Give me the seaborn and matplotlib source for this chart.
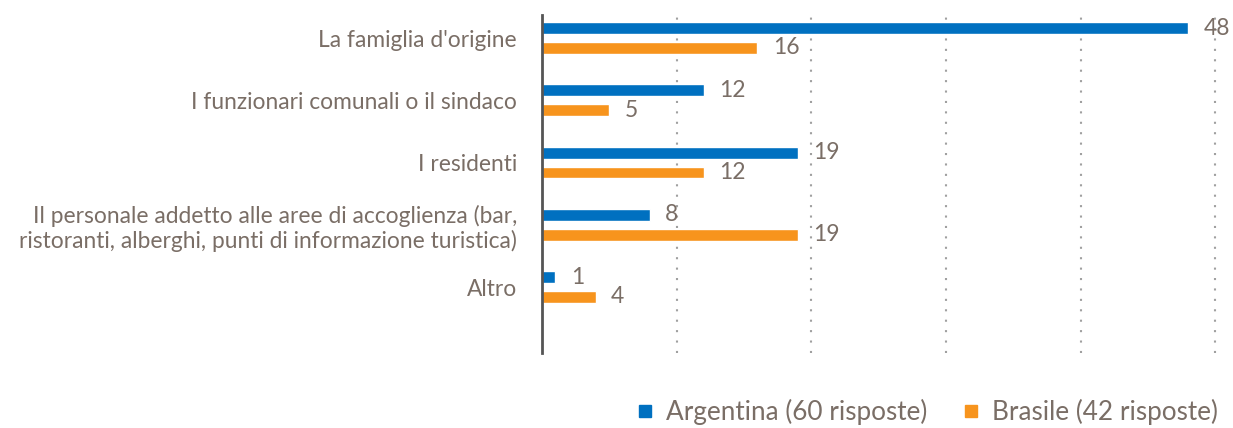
import pandas as pd
import matplotlib.pyplot as plt
import seaborn as sns
from matplotlib.lines import Line2D

categories = [
    "La famiglia d'origine",
    "I funzionari comunali o il sindaco",
    "I residenti",
    "Il personale addetto alle aree di accoglienza (bar,\nristoranti, alberghi, punti di informazione turistica)",
    "Altro",
]
series = ["Argentina (60 risposte)", "Brasile (42 risposte)"]
argentina = [48, 12, 19, 8, 1]
brasile = [16, 5, 12, 19, 4]

colors = ["#0070C0", "#F7941D"]
textColor = "#7A6E66"

df = pd.DataFrame({
    "categoria": categories * 2,
    "serie": [series[0]] * len(categories) + [series[1]] * len(categories),
    "valore": argentina + brasile,
})

sns.set_style("white")
plt.rcParams['font.family'] = ['Lato', 'DejaVu Sans']

fig = plt.figure(figsize=(12.33, 4.28), dpi=100)
ax = fig.add_axes([542 / 1233, 1 - 353 / 428, (1218 - 542) / 1233, (353 - 15) / 428])

sns.barplot(data=df, y="categoria", x="valore", hue="serie", order=categories,
            hue_order=series, palette=colors, orient="h", width=0.64, gap=0.4,
            ax=ax, legend=False, saturation=1)

for container in ax.containers:
    ax.bar_label(container, padding=11, color=textColor, fontsize=16.5)

ax.set_xlim(0, 50.2)
ax.set_ylim(4 + 1.06, -0.37)
ax.set_xticks([10, 20, 30, 40, 50])
ax.set_xticklabels([])
ax.tick_params(axis="both", length=0)
ax.xaxis.grid(True, linestyle=(0, (1, 4)), color="#A0A0A0", linewidth=1.5)
ax.set_axisbelow(True)
for side in ["top", "right", "bottom"]:
    ax.spines[side].set_visible(False)
ax.spines["left"].set_color("#555555")
ax.spines["left"].set_linewidth(2)
ax.set_xlabel("")
ax.set_ylabel("")
ax.tick_params(axis="y", pad=18, labelsize=16.4, labelcolor=textColor)
for lbl in ax.get_yticklabels():
    lbl.set_horizontalalignment("right")
    lbl.set_multialignment("right")

handles = [Line2D([0], [0], marker="s", linestyle="", markersize=8, color=c) for c in colors]
fig.legend(handles, series, loc="center right", bbox_to_anchor=(1218 / 1233, 1 - 412 / 428),
           ncol=2, frameon=False, fontsize=18.8, labelcolor=textColor, borderpad=0,
           borderaxespad=0, handlelength=0.6, handletextpad=0.5, columnspacing=1.4)

plt.savefig("out.png", dpi=100)
plt.close()
